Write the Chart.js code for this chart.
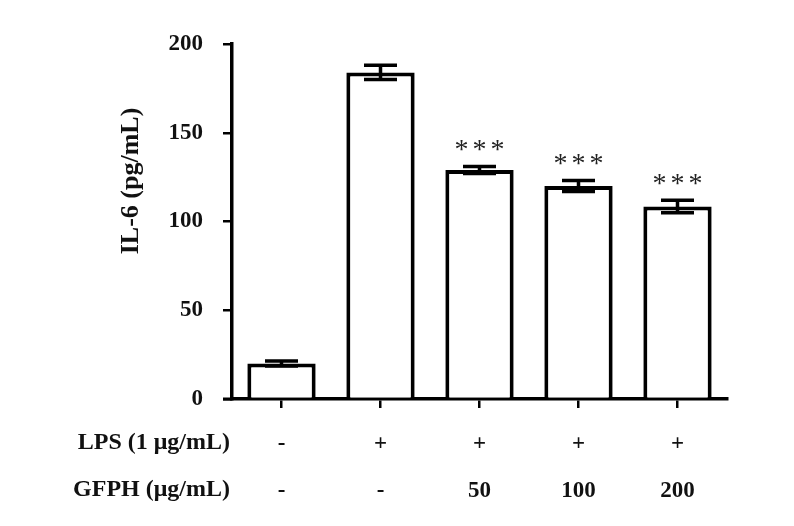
<!DOCTYPE html>
<html>
<head>
<meta charset="utf-8">
<title>IL-6</title>
<script src="https://cdn.jsdelivr.net/npm/chart.js@4.4.1/dist/chart.umd.min.js"></script>
<style>
  html, body { margin: 0; padding: 0; background: #fff; }
  #wrap { width: 794px; height: 526px; }
</style>
</head>
<body>
<div id="wrap"><canvas id="myChart" width="794" height="526"></canvas></div>
<script>
'use strict'

// data
let lpsRow = ['-', '+', '+', '+', '+'];
let gfphRow = ['-', '-', '50', '100', '200'];
let il6Values = [20, 184, 129, 120, 108.5];
let il6Errors = [1.4, 4, 2, 3.1, 3.5];
let starMarks = ['', '', '***', '***', '***'];
let rowTitles = ['LPS (1 μg/mL)', 'GFPH (μg/mL)'];
let yTicks = [0, 50, 100, 150, 200];
let yTitle = 'IL-6 (pg/mL)';

let serif = '"Liberation Serif", "Times New Roman", serif';

let labels = [];
for (let i = 0; i < lpsRow.length; i++) {
    labels.push([lpsRow[i], gfphRow[i]]);
}

// error bars, stars, row titles, y title
const extras = {
    id: 'extras',
    afterDatasetsDraw(chart) {
        let ctx = chart.ctx;
        let y = chart.scales.y;
        let meta = chart.getDatasetMeta(0);
        ctx.save();
        ctx.strokeStyle = '#000';
        ctx.lineWidth = 3.5;
        for (let i = 0; i < meta.data.length; i++) {
            let cx = meta.data[i].x;
            let top = y.getPixelForValue(il6Values[i] + il6Errors[i]);
            let bot = y.getPixelForValue(il6Values[i] - il6Errors[i]);
            ctx.beginPath();
            ctx.moveTo(cx, top);
            ctx.lineTo(cx, bot);
            ctx.moveTo(cx - 16.5, top);
            ctx.lineTo(cx + 16.5, top);
            ctx.moveTo(cx - 16.5, bot);
            ctx.lineTo(cx + 16.5, bot);
            ctx.stroke();

            if (starMarks[i]) {
                ctx.fillStyle = '#222';
                ctx.font = '28px ' + serif;
                ctx.textAlign = 'center';
                ctx.textBaseline = 'middle';
                let stars = starMarks[i].split('');
                for (let k = 0; k < stars.length; k++) {
                    ctx.fillText(stars[k], cx + (k - 1) * 18, top - 16);
                }
            }
        }
        ctx.restore();
    },
    afterDraw(chart) {
        let ctx = chart.ctx;
        let area = chart.chartArea;
        let x = chart.scales.x;
        ctx.save();
        // x axis runs a little past the y axis
        ctx.strokeStyle = '#000';
        ctx.lineWidth = 3;
        ctx.beginPath();
        ctx.moveTo(area.left - 9, area.bottom);
        ctx.lineTo(area.left, area.bottom);
        ctx.stroke();

        ctx.fillStyle = '#111';
        ctx.font = 'bold 24px ' + serif;
        ctx.textAlign = 'right';
        ctx.textBaseline = 'middle';
        ctx.fillText(rowTitles[0], 230, 443);
        ctx.fillText(rowTitles[1], 230, 490);

        ctx.translate(131, 181);
        ctx.rotate(-Math.PI / 2);
        ctx.textAlign = 'center';
        ctx.font = 'bold 26px ' + serif;
        ctx.fillText(yTitle, 0, 0);
        ctx.restore();
    }
};

let config = {
    type: 'bar',
    data: {
        labels: labels,
        datasets: [{
            data: il6Values,
            backgroundColor: '#fff',
            borderColor: '#000',
            borderWidth: 4,
            borderSkipped: 'bottom',
            barPercentage: 0.69,
            categoryPercentage: 1
        }]
    },
    options: {
        responsive: false,
        animation: false,
        events: [],
        layout: { padding: { left: 0, right: 67, top: 44, bottom: 0 } },
        plugins: {
            legend: { display: false },
            tooltip: { enabled: false }
        },
        scales: {
            x: {
                offset: true,
                grid: {
                    offset: false,
                    drawOnChartArea: false,
                    drawTicks: true,
                    tickLength: 9,
                    lineWidth: 2.5,
                    color: '#000'
                },
                border: { display: true, color: '#000', width: 3.5 },
                ticks: {
                    color: '#111',
                    padding: 12,
                    font: { family: serif, size: 23, weight: 'bold', lineHeight: 2.05 }
                },
                afterFit(scale) { scale.height = 127; }
            },
            y: {
                min: 0,
                max: 200,
                afterBuildTicks(scale) {
                    scale.ticks = yTicks.map(v => ({ value: v }));
                },
                grid: {
                    drawOnChartArea: false,
                    drawTicks: true,
                    tickLength: 9,
                    lineWidth: 2.5,
                    color: '#000'
                },
                border: { display: true, color: '#000', width: 3.5 },
                ticks: {
                    color: '#111',
                    padding: 20,
                    font: { family: serif, size: 23, weight: 'bold' }
                },
                afterFit(scale) { scale.width = 232; }
            }
        }
    },
    plugins: [extras]
};

let myChart = new Chart(document.getElementById('myChart'), config);
</script>
</body>
</html>
